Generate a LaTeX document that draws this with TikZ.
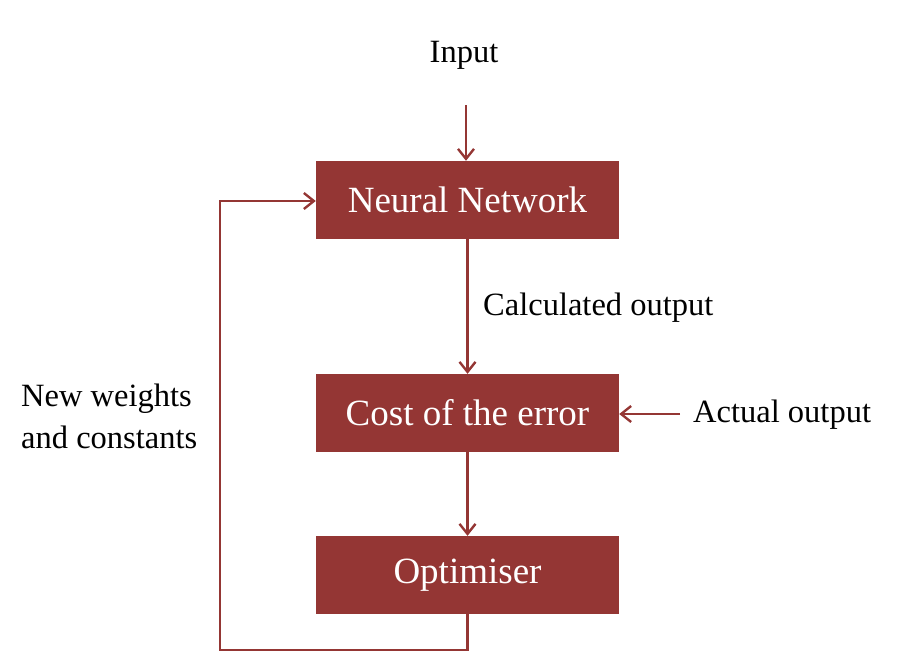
\documentclass[tikz,border=0pt]{standalone}
\usepackage{fontspec}
\setmainfont{Liberation Serif}
\usetikzlibrary{arrows.meta}
\definecolor{boxred}{HTML}{943634}
\begin{document}
\begin{tikzpicture}[x=1pt,y=-1pt,
  procbox/.style={draw=none,fill=boxred,minimum width=303pt,minimum height=78pt,inner sep=0pt,text=white,font=\fontsize{37}{40}\selectfont},
  lbl/.style={inner sep=0pt,font=\fontsize{32.5}{42}\selectfont,text=black},
  conn/.style={draw=boxred,line width=2.6pt,-{Straight Barb[length=10pt,width=16pt,line width=2.4pt]}},
  plain/.style={draw=boxred,line width=2.6pt}]
\useasboundingbox (0,0) rectangle (915,653);
\node[procbox] (nn) at (467.5,200) {Neural Network};
\node[procbox] (cost) at (467.5,413) {Cost of the error};
\node[procbox] (opt) at (467.5,575) {Optimiser};
\node[lbl] (in) at (464,55) {Input};
\coordinate (intop) at (466,105);
\node[lbl,anchor=west] (calc) at (483,308) {Calculated output};
\node[lbl,anchor=west] (act) at (693,415) {Actual output};
\coordinate (actstart) at (680,414);
\node[lbl,anchor=west,align=left] (neww) at (21,416) {New weights\\and constants};
\coordinate (c1) at (467.5,650);
\coordinate (c2) at (220,650);
\coordinate (c3) at (220,201);
\draw[conn] (intop) -- (intop |- nn.north);
\draw[conn] (nn) -- (cost);
\draw[conn] (cost) -- (opt);
\draw[conn] (actstart) -- (cost.east |- actstart);
\draw[conn] (opt.south) -- (c1) -- (c2) -- (c3) -- (nn.west |- c3);
\end{tikzpicture}
\end{document}
